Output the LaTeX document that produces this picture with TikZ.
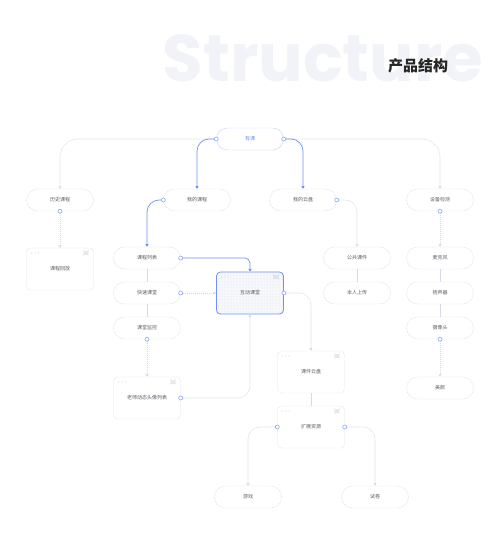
\documentclass[tikz,border=0pt]{standalone}
\usepackage{fontspec}
\setmainfont{Noto Sans CJK SC}
\newfontfamily\bigfont{Poppins}
\usetikzlibrary{arrows.meta,patterns}
\definecolor{lineg}{HTML}{D6DAE6}
\definecolor{blueln}{HTML}{7090F5}
\definecolor{portb}{HTML}{8EA6F7}
\definecolor{txtg}{HTML}{5A5E66}
\definecolor{ghost}{HTML}{F1F3F8}
\tikzset{
  pill/.style={draw=lineg, dash pattern=on 1.2pt off 0.8pt, rounded corners=11pt,
    minimum width=67pt, minimum height=22pt, text=txtg, font=\fontsize{5}{6}\selectfont},
  win/.style={draw=lineg, dash pattern=on 1.2pt off 0.8pt, rounded corners=4pt,
    minimum width=67pt, minimum height=42pt, text=txtg, font=\fontsize{5}{6}\selectfont,
    path picture={
      \foreach \i in {0,1,2}
        \fill[lineg] ([xshift=5pt+\i*3.5pt,yshift=-5pt]path picture bounding box.north west) circle (0.7pt);
      \draw[lineg,line width=0.4pt] ([xshift=-10pt,yshift=-3.5pt]path picture bounding box.north east) rectangle ([xshift=-5pt,yshift=-6.5pt]path picture bounding box.north east);
    }},
  link/.style={draw=lineg, line width=0.6pt, dash pattern=on 1.2pt off 0.8pt, rounded corners=12pt,
    -{Triangle[width=3pt,length=2.5pt]}},
  bluelink/.style={draw=blueln, line width=0.7pt, rounded corners=12pt,
    -{Triangle[width=3.2pt,length=2.8pt]}},
  plain/.style={draw=lineg, line width=0.6pt},
  port/.style={draw=portb, fill=white, line width=0.6pt},
}
\begin{document}
\begin{tikzpicture}[x=1pt,y=-1pt]
\useasboundingbox[fill=white] (0,0) rectangle (500,543);

% title
\node[text=ghost, font=\bigfont\bfseries\fontsize{66}{66}\selectfont, anchor=center] (ghosttitle) at (323,58) {Structure};
\node[font=\bfseries\fontsize{15}{15}\selectfont, text=black!85] (title) at (418,66) {产品结构};

% first row
\node[pill, draw=blueln!40, solid, text=blueln] (root) at (250,139) {有课};
\node[pill] (hist) at (60,200) {历史课程};
\node[pill] (mycourse) at (197,200) {我的课程};
\node[pill] (mycloud) at (303,200) {我的云盘};
\node[pill] (device) at (440,200) {设备检测};

% second level
\node[win] (replay) at (60,269) {课程回放};
\node[pill] (list) at (147,258) {课程列表};
\node[pill] (quick) at (147,293) {快速课堂};
\node[pill] (monitor) at (147,328) {课堂监控};
\node[win, draw=blueln, solid, line width=0.8pt, preaction={fill=ghost!60}, pattern=dots, pattern color=lineg] (interact) at (250,293) {互动课堂};
\node[pill] (public) at (357,258) {公共课件};
\node[pill] (upload) at (357,293) {本人上传};
\node[pill] (mic) at (440,258) {麦克风};
\node[pill] (speaker) at (440,293) {扬声器};
\node[pill] (camera) at (440,328) {摄像头};
\node[pill] (beauty) at (440,388) {美颜};
\node[win] (avatars) at (147,398) {老师动态头像列表};
\node[win] (cloudware) at (311,372) {课件云盘};
\node[win] (extra) at (311,427) {扩展资源};
\node[pill] (game) at (248,497) {游戏};
\node[pill] (paper) at (375,497) {试卷};

% connectors
\draw[link, rounded corners=18pt] (root.west) -| (hist.north);
\draw[link, rounded corners=18pt] (root.east) -| (device.north);
\draw[bluelink] (root.west) -| (mycourse.north);
\draw[bluelink] (root.east) -| (mycloud.north);
\draw[link] (hist.south) -- (replay.north);
\draw[bluelink] (mycourse.west) -| (list.north);
\draw[bluelink, rounded corners=5pt] (list.east) -| (interact.north);
\draw[plain] (list) -- (quick) (quick) -- (monitor);
\draw[link] (quick.east) -- (interact.west);
\draw[link] (monitor.south) -- (avatars.north);
\draw[link] (avatars.east) -| (interact.south);
\draw[link] (interact.east) -| (cloudware.north);
\draw[link] (mycloud.east) -| (public.north);
\draw[plain] (public) -- (upload);
\draw[link] (device.south) -- (mic.north);
\draw[plain] (mic) -- (speaker) (speaker) -- (camera);
\draw[link] (camera.south) -- (beauty.north);
\draw[plain] (cloudware) -- (extra);
\draw[link] (extra.west) -| (game.north);
\draw[link] (extra.east) -| (paper.north);

% ports
\foreach \p in {root.west,root.east,hist.south,mycourse.west,mycloud.east,device.south,
  list.east,quick.east,monitor.south,avatars.east,interact.east,camera.south,extra.west,extra.east}
  \draw[port] (\p) circle (2pt);
\end{tikzpicture}
\end{document}
